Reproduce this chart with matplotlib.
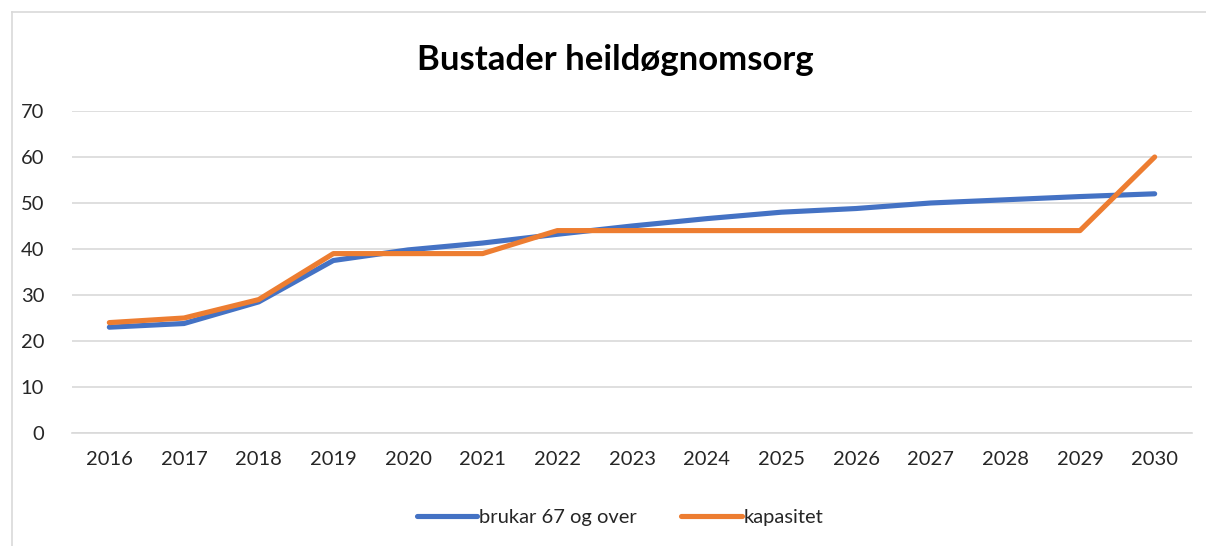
import matplotlib
matplotlib.use("Agg")
import matplotlib.pyplot as plt
from matplotlib.lines import Line2D

years = [2016, 2017, 2018, 2019, 2020, 2021, 2022, 2023, 2024, 2025, 2026, 2027, 2028, 2029, 2030]
brukar = [23, 23.8, 28.5, 37.5, 39.8, 41.3, 43.2, 45, 46.6, 48, 48.8, 50, 50.7, 51.4, 52]
kapasitet = [24, 25, 29, 39, 39, 39, 44, 44, 44, 44, 44, 44, 44, 44, 60]
yticks = [0, 10, 20, 30, 40, 50, 60, 70]

BLUE = "#4472C4"
ORANGE = "#ED7D31"
GRID = "#D9D9D9"
TEXT = "#262626"

plt.rcParams["font.family"] = ["Lato", "DejaVu Sans"]

W, H = 1206, 546
fig = plt.figure(figsize=(W / 100, H / 100), dpi=100)
ax = fig.add_axes([72 / W, 1 - 433 / H, (1192 - 72) / W, (433 - 111) / H])

ax.plot(years, brukar, color=BLUE, lw=3.7, solid_capstyle="round", solid_joinstyle="round",
        label="brukar 67 og over", zorder=3)
ax.plot(years, kapasitet, color=ORANGE, lw=3.7, solid_capstyle="round", solid_joinstyle="round",
        label="kapasitet", zorder=4)

ax.set_xlim(2015.5, 2030.5)
ax.set_ylim(0, 70)
ax.set_xticks(years)
ax.set_xticklabels([str(y) for y in years])
ax.set_yticks(yticks)
ax.grid(axis="y", color=GRID, lw=1.2)
ax.set_axisbelow(True)
for s in ["top", "right", "left"]:
    ax.spines[s].set_visible(False)
ax.spines["bottom"].set_color(GRID)
ax.spines["bottom"].set_linewidth(1.2)
ax.tick_params(length=0, labelsize=14.5, colors=TEXT)
ax.tick_params(axis="x", pad=13)
ax.tick_params(axis="y", pad=20)

fig.text(615 / W, 1 - 60 / H, "Bustader heildøgnomsorg", ha="center", va="center",
         fontsize=25, fontweight="bold", color="black")

leg = fig.legend(loc="center", bbox_to_anchor=(620 / W, 1 - 517 / H), ncol=2, frameon=False,
                 fontsize=14.5, handlelength=3.0, handletextpad=0.1, columnspacing=2.2)
for t in leg.get_texts():
    t.set_color(TEXT)

# chart border (Excel chart area)
fig.add_artist(Line2D([12 / W, 12 / W], [0, 1 - 12 / H], color=GRID, lw=1.2))
fig.add_artist(Line2D([12 / W, 1], [1 - 12 / H, 1 - 12 / H], color=GRID, lw=1.2))

fig.savefig("out.png", dpi=100)
